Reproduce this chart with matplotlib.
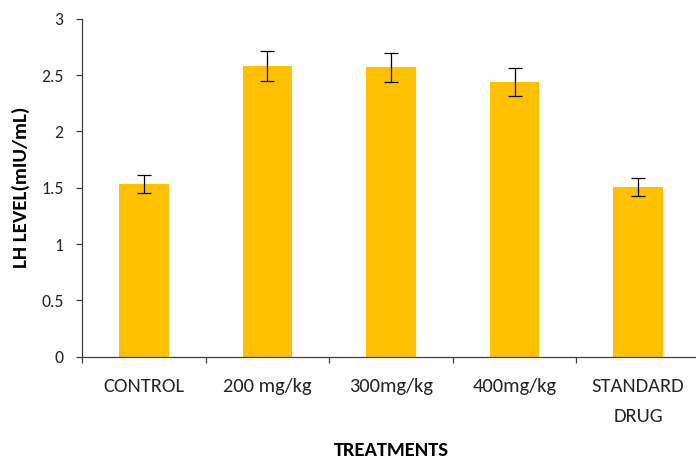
import numpy as np
import matplotlib.pyplot as plt
from matplotlib.ticker import FixedLocator

# LH level per treatment group
treatments = ["CONTROL", "200 mg/kg", "300mg/kg", "400mg/kg", "STANDARD\nDRUG"]
lh_level = [1.53, 2.58, 2.57, 2.44, 1.51]
lh_err = [0.08, 0.13, 0.13, 0.125, 0.08]
y_ticks = [0, 0.5, 1, 1.5, 2, 2.5, 3]
y_tick_labels = ["0", "0.5", "1", "1.5", "2", "2.5", "3"]

font = ["Carlito", "DejaVu Sans"]
plt.rcParams["font.family"] = font
axis_col = "#404040"
text_col = "#262626"

fig = plt.figure(figsize=(6.96, 4.59), dpi=100)
ax = fig.add_axes([82 / 696, 1 - 356.7 / 459, 618 / 696, 337.9 / 459])

x = np.arange(len(treatments))
ax.bar(x, lh_level, width=0.4, color="#FFC000", zorder=2)
ax.errorbar(x, lh_level, yerr=lh_err, fmt="none", ecolor="black",
            elinewidth=0.9, capsize=5, capthick=0.9, zorder=3)

ax.set_xlim(-0.5, len(treatments) - 0.5)
ax.set_ylim(0, 3)

for s in ("top", "right"):
    ax.spines[s].set_visible(False)
for s in ("left", "bottom"):
    ax.spines[s].set_color(axis_col)
    ax.spines[s].set_linewidth(0.9)

ax.tick_params(axis="y", direction="out", length=4.3, width=0.9,
               color=axis_col, pad=9)
ax.tick_params(axis="x", which="major", length=0, pad=15.5)
ax.xaxis.set_minor_locator(FixedLocator(np.arange(-0.5, len(treatments) - 0.5, 1)))
ax.tick_params(axis="x", which="minor", direction="out", length=4.3,
               width=0.9, color=axis_col)

ax.set_yticks(y_ticks)
ax.set_yticklabels(y_tick_labels, fontsize=12.7, color=text_col)
ax.set_xticks(x)
ax.set_xticklabels(treatments, fontsize=14.8, color=text_col)
for lbl in ax.get_xticklabels():
    lbl.set_linespacing(1.9)

ax.set_xlabel("TREATMENTS", fontsize=14.8, fontweight="bold", va="center")
ax.xaxis.set_label_coords((391 - 82) / 618, (356.7 - 450) / 337.9)
ax.set_ylabel("LH LEVEL(mIU/mL)", fontsize=15, fontweight="bold", va="center")
ax.yaxis.set_label_coords((21 - 82) / 618, 0.5)

plt.savefig("out.png", dpi=100)
plt.close()
